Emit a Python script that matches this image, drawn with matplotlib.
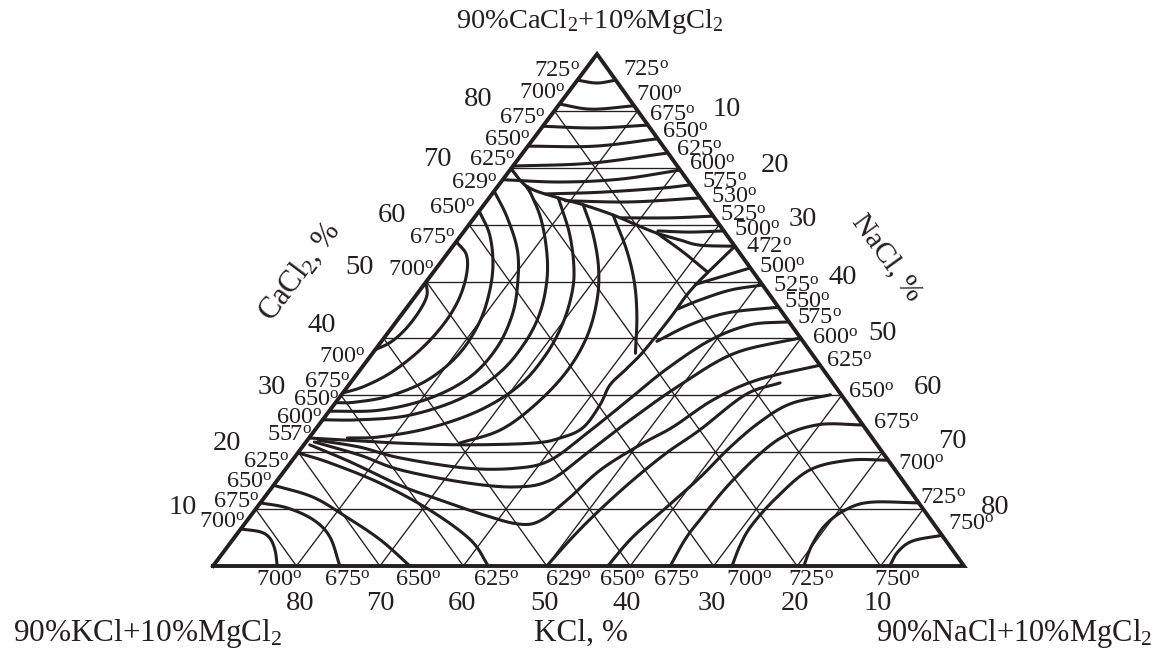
import numpy as np
import matplotlib
matplotlib.use("Agg")
import matplotlib.pyplot as plt

plt.rcParams['font.family'] = ['Liberation Serif', 'DejaVu Serif']
plt.rcParams['mathtext.fontset'] = 'custom'
plt.rcParams['mathtext.rm'] = 'Liberation Serif'
plt.rcParams['mathtext.it'] = 'Liberation Serif:italic'

# ---------------- data (CaCl2 %, NaCl %) on the 0..90 scale ----------------
axis_ticks = [10, 20, 30, 40, 50, 60, 70, 80]

# CaCl2 primary field isotherms
T725 = [(85.4, 0), (84.9, 2.6), (85.4, 4.6)]
T700 = [(81.2, 0), (80.3, 4.3), (80.9, 9.1)]
T675 = [(77.3, 0), (77.0, 6.4), (77.5, 12.5)]
T650 = [(73.8, 0), (73.8, 8.0), (75.1, 14.9)]
T625 = [(70.3, 0), (70.8, 9.0), (72.6, 17.4)]
R600 = [(67.9, 0), (67.5, 7.1), (68.0, 14.0), (69.6, 20.4)]
R575 = [(65.4, 6.4), (65.7, 12.8), (66.4, 19.6), (67.0, 23.0)]
R530 = [(64.2, 9.4), (64.0, 17.3), (64.7, 25.3)]
R525 = [(61.2, 17.6), (61.2, 23.5), (61.5, 28.5)]
R500 = [(58.9, 23.2), (58.7, 27.1), (58.9, 31.1)]

# boundary curves
B1 = [(69.8, 0), (66.6, 3.7), (64.7, 8.3), (63.5, 11.9), (61.7, 16.4), (59.9, 20.2),
      (58.5, 23.3), (57.3, 26.7), (56.4, 29.5), (56.2, 33.8)]
B2 = [(22.5, 0), (22.1, 5.1), (21.6, 11.3), (21.3, 19.4), (21.6, 27.3), (22.5, 30.1),
      (24.3, 31.9), (28.3, 31.9), (31.8, 31.3), (34.5, 31.8), (37.6, 32.3), (43.6, 32.5),
      (48.9, 32.5), (56.2, 33.8)]
X1 = [(58.5, 23.3), (55.2, 28.1), (51.7, 32.8)]

# compound field isotherms
A700 = [(49.9, 0), (47.6, 1.3), (45.0, 1.8), (41.8, 1.8), (39.4, 1.2), (38.0, 0)]
A675 = [(57.0, 0), (54.7, 2.4), (51.2, 4.2), (46.8, 5.5), (42.4, 5.9), (38.0, 5.4),
        (34.1, 4.0), (31.6, 2.0), (30.4, 0)]
A650 = [(62.4, 0), (58.2, 3.4), (52.9, 6.5), (47.6, 8.7), (42.4, 10.1), (37.1, 10.4),
        (32.7, 9.0), (29.9, 5.9), (28.8, 2.3), (28.7, 0)]
A625 = [(65.9, 0), (61.3, 3.9), (55.5, 8.1), (49.7, 11.1), (44.1, 13.3), (38.3, 14.4),
        (33.2, 13.8), (29.5, 10.9), (27.4, 6.0), (27.2, 0)]
A600 = [(66.6, 3.7), (61.3, 7.9), (55.5, 11.6), (50.3, 14.3), (44.6, 16.4), (39.4, 17.3),
        (34.1, 17.0), (29.5, 14.7), (26.5, 10.0), (25.7, 4.5), (25.7, 0)]
A575 = [(64.7, 8.3), (58.5, 12.8), (52.7, 16.3), (48.2, 18.4), (42.7, 20.1), (37.1, 20.9),
        (31.8, 20.5), (27.4, 18.0), (24.3, 13.6), (22.7, 8.4), (22.5, 4.6)]
A550 = [(63.5, 11.9), (58.5, 15.6), (52.6, 19.3), (46.8, 22.1), (40.3, 24.2), (34.1, 24.9),
        (28.3, 24.1), (23.9, 22.2), (21.6, 18.5)]
A525 = [(61.7, 16.4), (55.5, 21.2), (49.7, 25.1), (43.8, 28.4), (37.4, 31.5)]

# KCl-rich field isotherms
K700 = [(6.5, 0), (6.0, 2.6), (4.9, 4.3), (2.8, 6.0), (0, 7.7)]
K675 = [(11.1, 0), (10.2, 3.7), (8.1, 7.9), (5.1, 11.4), (0, 15.2)]
K650 = [(14.2, 0), (12.1, 5.8), (8.6, 11.6), (4.6, 17.7), (0, 23.6)]
K625 = [(19.9, 0), (18.1, 4.8), (14.6, 12.5), (9.8, 21.0), (4.6, 28.5), (0, 33.0)]

# isotherms crossing from KCl side to NaCl side
V575 = [(22.1, 1.3), (20.9, 6.9), (19.0, 12.7), (17.2, 21.6), (17.2, 27.6), (18.6, 30.9),
        (23.4, 32.9), (28.7, 34.7), (34.5, 36.6), (39.7, 39.3), (42.4, 42.7), (42.9, 47.1)]
V600 = [(21.8, 1.0), (19.5, 7.6), (16.9, 13.8), (14.6, 23.0), (13.9, 29.3), (15.1, 32.7),
        (19.9, 34.7), (25.7, 36.9), (31.8, 39.7), (37.4, 43.4), (40.1, 49.9)]
V625 = [(21.3, 0.7), (18.3, 7.1), (14.2, 15.1), (11.6, 21.3), (9.0, 27.8), (7.4, 32.7),
        (7.9, 35.1), (11.6, 36.5), (16.9, 37.8), (21.3, 40.3), (24.4, 42.6), (29.2, 45.0),
        (32.7, 48.5), (35.3, 54.7)]

# NaCl-rich field isotherms
N550 = [(45.5, 44.5), (44.5, 38.9), (42.4, 35.5), (39.5, 33.0)]
N525 = [(49.4, 40.6), (48.5, 37.2), (46.8, 34.5), (45.2, 32.6)]
N500 = [(52.4, 37.6), (50.8, 34.8), (49.5, 32.5)]
N629 = [(0, 40.0), (5.1, 40.5), (9.8, 41.3), (15.1, 42.6), (19.9, 44.2), (23.9, 46.1),
        (30.1, 48.4), (32.2, 51.5)]
N650 = [(0, 47.3), (5.1, 47.7), (10.4, 49.1), (15.6, 50.4), (20.9, 51.3), (25.3, 52.6),
        (28.5, 54.6), (30.1, 58.6)]
N675 = [(0, 54.8), (4.6, 54.2), (8.1, 54.2), (15.1, 54.6), (22.1, 56.3), (24.8, 59.7),
        (24.8, 65.2)]
N700 = [(0, 62.2), (3.7, 61.3), (7.2, 60.9), (12.1, 61.4), (16.9, 62.9), (18.6, 66.8),
        (18.6, 71.4)]
N725 = [(0, 70.8), (3.7, 69.9), (7.2, 69.7), (9.8, 70.7), (11.2, 73.0), (11.1, 78.9)]
N750 = [(0, 81.1), (2.5, 80.8), (4.4, 81.6), (5.4, 84.6)]

# temperature labels
left_temps = ['725', '700', '675', '650', '625', '629', '650', '675', '700',
              '700', '675', '650', '600', '557', '625', '650', '675', '700']
right_temps = ['725', '700', '675', '650', '625', '600', '575', '530', '525', '500',
               '472', '500', '525', '550', '575', '600', '625', '650', '675', '700',
               '725', '750']
bottom_temps = ['700', '675', '650', '625', '629', '650', '675', '700', '725', '750']

# ---------------- layout ----------------
W, H = 1161, 649
fig = plt.figure(figsize=(W / 100, H / 100), dpi=100)
ax = fig.add_axes([0, 0, 1, 1])
ax.set_xlim(0, W)
ax.set_ylim(H, 0)
ax.axis('off')

VK = np.array([213.0, 566.0])   # 90%KCl corner
VN = np.array([964.0, 566.0])   # 90%NaCl corner
VC = np.array([597.0, 54.0])    # 90%CaCl2 corner
INK = '#231f20'


def tern(c, n):
    c = np.asarray(c, float) / 90.0
    n = np.asarray(n, float) / 90.0
    k = 1.0 - c - n
    x = k * VK[0] + n * VN[0] + c * VC[0]
    y = k * VK[1] + n * VN[1] + c * VC[1]
    return x, y


def smooth(x, y, m=14):
    pts = np.column_stack([x, y])
    if len(pts) < 3:
        return x, y
    P = np.vstack([2 * pts[0] - pts[1], pts, 2 * pts[-1] - pts[-2]])
    out = []
    t = np.linspace(0, 1, m, endpoint=False)[:, None]
    for i in range(1, len(P) - 2):
        p0, p1, p2, p3 = P[i - 1], P[i], P[i + 1], P[i + 2]
        seg = 0.5 * (2 * p1 + (-p0 + p2) * t + (2 * p0 - 5 * p1 + 4 * p2 - p3) * t ** 2
                     + (-p0 + 3 * p1 - 3 * p2 + p3) * t ** 3)
        out.append(seg)
    out.append(pts[-1:])
    o = np.vstack(out)
    return o[:, 0], o[:, 1]


# grid
for v in axis_ticks:
    for a, b in [((v, 0), (v, 90 - v)), ((0, v), (90 - v, v)), ((0, 90 - v), (90 - v, 0))]:
        x, y = tern([a[0], b[0]], [a[1], b[1]])
        ax.plot(x, y, color=INK, lw=0.95, solid_capstyle='butt', zorder=1)

# curves
curves = [T725, T700, T675, T650, T625, R600, R575, R530, R525, R500,
          B1, B2, X1, A700, A675, A650, A625, A600, A575, A550, A525,
          K700, K675, K650, K625, V575, V600, V625,
          N550, N525, N500, N629, N650, N675, N700, N725, N750]
for cv in curves:
    cc = [p[0] for p in cv]
    nn = [p[1] for p in cv]
    x, y = tern(cc, nn)
    xs, ys = smooth(x, y)
    ax.plot(xs, ys, color=INK, lw=2.2, solid_capstyle='round', zorder=2)

# triangle border
x, y = tern([0, 0, 90, 0], [0, 90, 0, 0])
ax.plot(x, y, color=INK, lw=2.8, solid_joinstyle='miter', zorder=3)

# ---------------- text ----------------
deg = r'$^{\mathrm{o}}$'
tfs = 17.5
left_pos = [(557, 71), (542, 93), (522, 118), (507, 140), (492, 160), (474, 183),
            (452, 208), (432, 238), (411, 270), (342, 357), (327, 382), (316, 400),
            (299, 418), (289, 435), (266, 462), (249, 482), (236, 502), (222, 522)]
right_pos = [(646, 70), (659, 95), (672, 115), (685, 132), (699, 150), (712, 164),
             (724, 182), (734, 197), (743, 215), (757, 230), (769, 247), (782, 267),
             (796, 286), (807, 302), (819, 318), (835, 338), (849, 361), (871, 392),
             (896, 423), (921, 464), (943, 498), (971, 524)]
bottom_pos = [279, 347, 418, 496, 568, 622, 676, 749, 811, 897]

for s, (px, py) in zip(left_temps, left_pos):
    ax.text(px, py, s + deg, fontsize=tfs, ha='center', va='center', color=INK)
for s, (px, py) in zip(right_temps, right_pos):
    ax.text(px, py, s + deg, fontsize=tfs, ha='center', va='center', color=INK)
for s, px in zip(bottom_temps, bottom_pos):
    ax.text(px, 580, s + deg, fontsize=tfs, ha='center', va='center', color=INK)

nfs = 20.5
left_num_pos = [(183, 507), (227, 443), (272, 388), (322, 325), (360, 268), (392, 215),
                (437, 160), (478, 100)]
right_num_pos = [(727, 110), (775, 165), (803, 220), (843, 277), (883, 333), (928, 388),
                 (952, 442), (995, 507)]
bottom_num_pos = [878, 795, 712, 627, 545, 462, 380, 300]
for v, (px, py) in zip(axis_ticks, left_num_pos):
    ax.text(px, py, str(v), fontsize=nfs, ha='center', va='center', color=INK)
for v, (px, py) in zip(axis_ticks, right_num_pos):
    ax.text(px, py, str(v), fontsize=nfs, ha='center', va='center', color=INK)
for v, px in zip(axis_ticks, bottom_num_pos):
    ax.text(px, 603, str(v), fontsize=nfs, ha='center', va='center', color=INK)

ax.text(590, 22, r'90%CaCl$_2$+10%MgCl$_2$', fontsize=20.5, ha='center', va='center', color=INK)
ax.text(148, 633, r'90%KCl+10%MgCl$_2$', fontsize=22.5, ha='center', va='center', color=INK)
ax.text(581, 633, 'KCl, %', fontsize=22.5, ha='center', va='center', color=INK)
ax.text(1014, 633, r'90%NaCl+10%MgCl$_2$', fontsize=22, ha='center', va='center', color=INK)
ax.text(300, 272, r'CaCl$_2$, %', fontsize=22, ha='center', va='center', rotation=53,
        rotation_mode='anchor', color=INK)
ax.text(887, 258, 'NaCl, %', fontsize=21, ha='center', va='center', rotation=-54,
        rotation_mode='anchor', color=INK)

fig.savefig('out.png', dpi=100)
